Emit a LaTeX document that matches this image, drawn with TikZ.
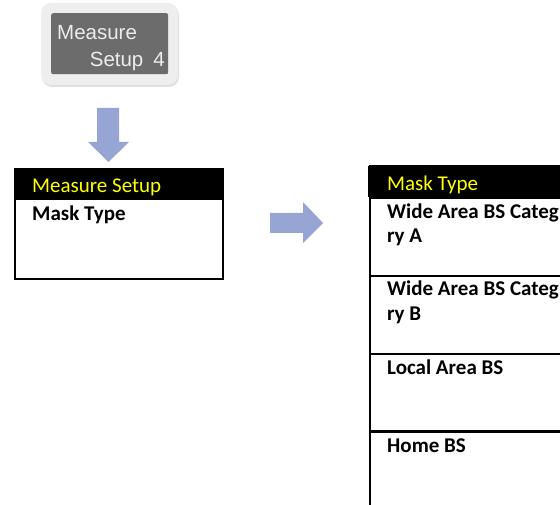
\documentclass[tikz,border=0pt]{standalone}
\usepackage{fontspec}
\setmainfont{Carlito}
\newfontfamily\keyfont{Liberation Sans}
\usepackage{tikz}
\usetikzlibrary{positioning}
\definecolor{arrowblue}{RGB}{150,165,212}
\definecolor{keygray}{RGB}{108,108,108}
\definecolor{keyrim}{RGB}{238,238,238}
\definecolor{keyink}{RGB}{236,236,236}
\definecolor{hdryellow}{RGB}{255,255,0}
\tikzset{
  keycap/.style={rectangle, fill=keygray, rounded corners=2pt, inner sep=0pt},
  keytext/.style={font=\keyfont\fontsize{20.5}{24}\selectfont, text=keyink, inner sep=0pt},
  menuhead/.style={rectangle, fill=black, inner sep=0pt},
  menurow/.style={rectangle, draw=black, line width=2pt, inner sep=0pt},
  headtext/.style={font=\fontsize{21}{24}\selectfont, text=hdryellow, inner sep=0pt, anchor=base west},
  itemtext/.style={font=\bfseries\fontsize{21}{24}\selectfont, text=black, inner sep=0pt, anchor=base west},
  blockarrow/.style={fill=arrowblue},
}
\begin{document}
\begin{tikzpicture}[x=1pt, y=-1pt]
  \useasboundingbox (0,0) rectangle (560,505);
  \clip (0,0) rectangle (560,505);

  % Hard key
  \fill[black!12, rounded corners=10pt] (42,5) rectangle (179,87);
  \fill[keyrim, rounded corners=10pt] (41,3) rectangle (178,85);
  \node[keycap, minimum width=117pt, minimum height=61pt, anchor=north west] (key) at (51,13) {};
  \node[keytext, anchor=base west] (keyline1) at (57,40) {Measure};
  \node[keytext, anchor=base east] (keyline2) at (165,67) {Setup\hspace{10pt}4};

  % Arrow down to the menu
  \fill[blockarrow] (97,108) -- (119,108) -- (119,142) -- (129,142) -- (108.5,162) -- (88,142) -- (97,142) -- cycle;

  % Measure Setup menu
  \node[menuhead, minimum width=208pt, minimum height=32pt, anchor=north west] (setuphead) at (14,168) {};
  \node[menurow, minimum width=208pt, minimum height=110pt, anchor=north west] (setupbox) at (14,168) {};
  \node[headtext] (setuptitle) at (32,193) {Measure Setup};
  \node[itemtext] (setupmask) at (32,221) {Mask Type};

  % Arrow to the submenu
  \fill[blockarrow] (270,213) -- (303,213) -- (303,202) -- (323,223) -- (303,243) -- (303,233) -- (270,233) -- cycle;

  % Mask Type submenu
  \node[menuhead, minimum width=212pt, minimum height=31pt, anchor=north west] (maskhead) at (369,166) {};
  \node[headtext] (masktitle) at (387,191) {Mask Type};
  \foreach \i/\top in {1/197, 2/275, 3/353, 4/430} {
    \node[menurow, minimum width=212pt, minimum height=78pt, anchor=north west] (maskrow\i) at (369,\top) {};
  }
  \draw[line width=2pt] (maskhead.north west) -- (maskhead.north east);
  \draw[line width=2pt] (maskhead.north west) -- (maskhead.south west);
  \node[itemtext] (catA1) at (387,219) {Wide Area BS Categ};
  \node[itemtext] (catA2) at (387,243) {ry A};
  \node[itemtext] (catB1) at (387,296) {Wide Area BS Categ};
  \node[itemtext] (catB2) at (387,320) {ry B};
  \node[itemtext] (localbs) at (387,374) {Local Area BS};
  \node[itemtext] (homebs) at (387,452) {Home BS};
\end{tikzpicture}
\end{document}
